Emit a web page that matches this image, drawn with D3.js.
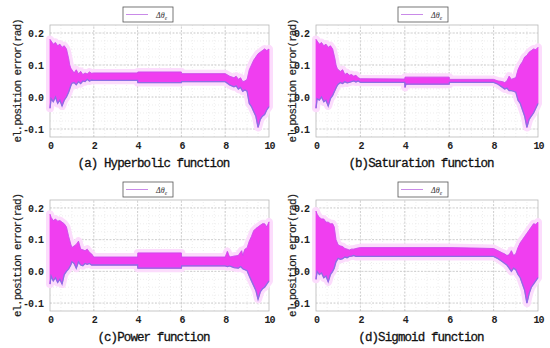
<!DOCTYPE html>
<html>
<head>
<meta charset="utf-8">
<script src="https://cdn.jsdelivr.net/npm/d3@7"></script>
<style>
  body { margin: 0; background: #fff; }
  svg { display: block; }
</style>
</head>
<body>
<svg id="chart" width="550" height="348"></svg>
<script>
// envelope of the error signal (max / min of the oscillation)
var timeA  = [0, 0.05, 0.15, 0.25, 0.35, 0.45, 0.55, 0.65, 0.75, 0.85, 0.9, 0.95, 1.0, 1.1, 1.2, 1.3, 1.4, 1.5, 1.6, 1.7, 1.8, 1.9, 2.0,
              4.0, 4.01, 6.0, 6.01, 8.0, 8.2, 8.4, 8.5, 8.6, 8.7, 8.8, 8.9, 9.0, 9.1, 9.2, 9.3, 9.4, 9.5, 9.6, 9.7, 9.8, 9.9, 10];
var upperA = [0.18, 0.175, 0.165, 0.17, 0.16, 0.165, 0.155, 0.16, 0.15, 0.12, 0.10, 0.09, 0.085, 0.075, 0.085, 0.072, 0.08, 0.07, 0.075, 0.072, 0.078, 0.074, 0.075,
              0.075, 0.078, 0.078, 0.073, 0.073, 0.065, 0.06, 0.065, 0.055, 0.06, 0.048, 0.05, 0.055, 0.085, 0.10, 0.115, 0.125, 0.135, 0.14, 0.145, 0.15, 0.145, 0.15];
var lowerA = [-0.035, -0.005, -0.015, 0.0, -0.02, -0.01, -0.028, -0.01, 0.0, 0.015, 0.025, 0.035, 0.043, 0.045, 0.038, 0.048, 0.042, 0.05, 0.048, 0.055, 0.05, 0.053, 0.052,
              0.052, 0.045, 0.045, 0.048, 0.048, 0.038, 0.032, 0.035, 0.025, 0.03, 0.018, 0.022, 0.018, -0.02, -0.03, -0.045, -0.06, -0.095, -0.07, -0.06, -0.055, -0.04, -0.03];

var timeB  = [0, 0.05, 0.15, 0.25, 0.35, 0.45, 0.55, 0.65, 0.75, 0.85, 0.9, 0.95, 1.0, 1.1, 1.2, 1.3, 1.4, 1.5, 1.6, 1.7, 1.8, 1.9, 2.0,
              4.0, 4.01, 4.05, 6.0, 6.01, 8.0, 8.2, 8.4, 8.5, 8.6, 8.7, 8.8, 8.9, 9.0, 9.1, 9.2, 9.3, 9.4, 9.5, 9.6, 9.7, 9.8, 9.9, 10];
var upperB = [0.18, 0.175, 0.165, 0.17, 0.16, 0.165, 0.155, 0.16, 0.15, 0.12, 0.10, 0.09, 0.085, 0.08, 0.085, 0.07, 0.075, 0.068, 0.07, 0.065, 0.068, 0.06, 0.057,
              0.056, 0.062, 0.062, 0.062, 0.055, 0.055, 0.05, 0.048, 0.045, 0.05, 0.065, 0.055, 0.058, 0.06, 0.085, 0.10, 0.11, 0.125, 0.13, 0.14, 0.145, 0.15, 0.148, 0.155];
var lowerB = [-0.035, -0.005, -0.01, 0.0, -0.015, -0.01, -0.028, -0.005, 0.005, 0.02, 0.028, 0.035, 0.04, 0.045, 0.042, 0.048, 0.044, 0.046, 0.048, 0.05, 0.047, 0.05, 0.046,
              0.046, 0.03, 0.04, 0.04, 0.046, 0.046, 0.04, 0.03, 0.025, 0.028, 0.02, 0.02, 0.018, 0.015, -0.01, -0.02, -0.04, -0.06, -0.095, -0.07, -0.06, -0.05, -0.035, -0.02];

var timeC  = [0, 0.05, 0.15, 0.25, 0.35, 0.45, 0.55, 0.65, 0.75, 0.85, 0.95, 1.0, 1.1, 1.2, 1.3, 1.4, 1.5, 1.6, 1.7, 1.8, 1.9, 2.0,
              4.0, 4.01, 6.0, 6.01, 8.0, 8.1, 8.2, 8.4, 8.6, 8.7, 8.75, 8.8, 8.9, 9.0, 9.1, 9.2, 9.3, 9.4, 9.5, 9.6, 9.7, 9.8, 9.9, 10];
var upperC = [0.18, 0.17, 0.16, 0.165, 0.158, 0.16, 0.155, 0.15, 0.14, 0.11, 0.085, 0.075, 0.08, 0.085, 0.095, 0.07, 0.068, 0.065, 0.07, 0.06, 0.055, 0.045,
              0.045, 0.058, 0.058, 0.045, 0.045, 0.063, 0.045, 0.048, 0.05, 0.06, 0.065, 0.05, 0.07, 0.074, 0.095, 0.11, 0.128, 0.135, 0.14, 0.145, 0.15, 0.15, 0.14, 0.156];
var lowerC = [-0.04, -0.015, -0.03, -0.02, -0.035, -0.025, -0.04, -0.01, 0.0, 0.008, 0.02, 0.03, 0.025, 0.01, 0.03, 0.02, 0.018, 0.025, 0.022, 0.025, 0.02, 0.02,
              0.02, 0.01, 0.01, 0.017, 0.017, 0.015, 0.017, 0.012, 0.01, 0.015, 0.012, 0.008, 0.005, 0.002, -0.015, -0.03, -0.045, -0.06, -0.088, -0.065, -0.055, -0.05, -0.04, -0.03];

var timeD  = [0, 0.05, 0.15, 0.25, 0.35, 0.45, 0.55, 0.65, 0.75, 0.82, 0.9, 1.0, 1.1, 1.2, 1.3, 1.4, 1.5, 1.6, 1.7, 1.8, 2.0,
              4.0, 6.0, 8.0, 8.2, 8.4, 8.5, 8.6, 8.7, 8.8, 8.9, 9.0, 9.1, 9.2, 9.3, 9.4, 9.5, 9.6, 9.7, 9.8, 9.9, 10];
var upperD = [0.19, 0.18, 0.17, 0.165, 0.165, 0.155, 0.155, 0.15, 0.15, 0.14, 0.10, 0.083, 0.08, 0.078, 0.072, 0.07, 0.067, 0.07, 0.07, 0.072, 0.075,
              0.075, 0.075, 0.072, 0.065, 0.058, 0.055, 0.05, 0.052, 0.065, 0.05, 0.055, 0.075, 0.09, 0.10, 0.11, 0.12, 0.13, 0.14, 0.15, 0.148, 0.155];
var lowerD = [-0.025, 0.0, -0.01, -0.005, -0.02, -0.015, -0.033, -0.01, 0.0, 0.01, 0.03, 0.041, 0.038, 0.04, 0.045, 0.043, 0.047, 0.048, 0.05, 0.047, 0.047,
              0.047, 0.047, 0.047, 0.04, 0.03, 0.025, 0.02, 0.01, 0.0, 0.01, 0.005, -0.01, -0.02, -0.04, -0.06, -0.1, -0.07, -0.05, -0.04, -0.03, -0.02];

var captions = ["(a) Hyperbolic function", "(b)Saturation function", "(c)Power function", "(d)Sigmoid function"];
var xTicks = [0, 2, 4, 6, 8, 10];
var yTicks = [-0.1, 0.0, 0.1, 0.2];
var yLabel = "el.position error(rad)";

var panels = [
    {t: timeA, up: upperA, lo: lowerA, col: 0, row: 0},
    {t: timeB, up: upperB, lo: lowerB, col: 1, row: 0},
    {t: timeC, up: upperC, lo: lowerC, col: 0, row: 1},
    {t: timeD, up: upperD, lo: lowerD, col: 1, row: 1}
];

var colLeft = [50, 316], colRight = [269, 538], colOrigin = [0, 275];
var rowTop = [25, 200], rowBottom = [137, 311];
var mono = "'Liberation Mono', 'DejaVu Sans Mono', monospace";

var svg = d3.select("#chart");

panels.forEach(function(p, i) {
    var x = d3.scaleLinear().domain([0, 10]).range([colLeft[p.col], colRight[p.col]]);
    var y = d3.scaleLinear().domain([-0.125, 0.225]).range([rowBottom[p.row], rowTop[p.row]]);
    var g = svg.append("g");
    var x0 = colOrigin[p.col];

    // minor grid (dotted)
    g.selectAll(".mx").data(d3.range(0.5, 10, 0.5)).enter().append("line")
        .attr("x1", d => x(d)).attr("x2", d => x(d))
        .attr("y1", y.range()[0]).attr("y2", y.range()[1])
        .attr("stroke", "#e6e6e6").attr("stroke-width", 0.7).attr("stroke-dasharray", "1,2");
    g.selectAll(".my").data(d3.range(-0.1, 0.225, 0.025)).enter().append("line")
        .attr("x1", x.range()[0]).attr("x2", x.range()[1])
        .attr("y1", d => y(d)).attr("y2", d => y(d))
        .attr("stroke", "#e6e6e6").attr("stroke-width", 0.7).attr("stroke-dasharray", "1,2");
    // major grid
    g.selectAll(".gx").data(xTicks.slice(1, -1)).enter().append("line")
        .attr("x1", d => x(d)).attr("x2", d => x(d))
        .attr("y1", y.range()[0]).attr("y2", y.range()[1])
        .attr("stroke", "#c4c4c4").attr("stroke-width", 0.8).attr("stroke-dasharray", "2,1.5");
    g.selectAll(".gy").data(yTicks).enter().append("line")
        .attr("x1", x.range()[0]).attr("x2", x.range()[1])
        .attr("y1", d => y(d)).attr("y2", d => y(d))
        .attr("stroke", "#c4c4c4").attr("stroke-width", 0.8).attr("stroke-dasharray", "2,1.5");

    g.append("rect")
        .attr("x", x.range()[0]).attr("y", y.range()[1])
        .attr("width", x.range()[1] - x.range()[0]).attr("height", y.range()[0] - y.range()[1])
        .attr("fill", "none").attr("stroke", "#b8b8b8").attr("stroke-width", 0.8);

    var idx = d3.range(p.t.length);
    var area = d3.area()
        .x(d => x(p.t[d]))
        .y0(d => y(p.lo[d]))
        .y1(d => y(p.up[d]));

    // light halo round the dense trace
    g.append("path").datum(idx).attr("d", area)
        .attr("fill", "#fcdcfc").attr("stroke", "#fcdcfc").attr("stroke-width", 8)
        .attr("stroke-linejoin", "round");
    g.append("path").datum(idx).attr("d", area)
        .attr("fill", "#f03ef0").attr("stroke", "#f03ef0").attr("stroke-width", 0.8);
    g.append("path").datum(idx)
        .attr("d", d3.line().x(d => x(p.t[d])).y(d => y(p.lo[d])))
        .attr("fill", "none").attr("stroke", "#8d6ee4").attr("stroke-width", 1.3);
    g.append("path").datum(idx)
        .attr("d", d3.line().x(d => x(p.t[d])).y(d => y(p.up[d])))
        .attr("fill", "none").attr("stroke", "#a45ce8").attr("stroke-width", 0.7).attr("opacity", 0.6);

    // axes
    var ax = g.append("g").attr("transform", "translate(0," + y.range()[0] + ")")
        .call(d3.axisBottom(x).tickValues(xTicks).tickSize(0).tickPadding(5).tickFormat(d3.format("d")));
    var ay = g.append("g").attr("transform", "translate(" + x.range()[0] + ",0)")
        .call(d3.axisLeft(y).tickValues(yTicks).tickSize(0).tickPadding(7).tickFormat(d => d.toFixed(1)));
    [ax, ay].forEach(function(a) {
        a.select(".domain").remove();
        a.selectAll("text")
            .style("font-family", mono).style("font-size", "10px").style("font-weight", "bold")
            .style("letter-spacing", "-1px").attr("fill", "#222");
    });

    // y label
    g.append("text")
        .attr("transform", "translate(" + (x0 + 21) + "," + ((rowTop[p.row] + rowBottom[p.row]) / 2) + ") rotate(-90)")
        .attr("text-anchor", "middle")
        .style("font-family", mono).style("font-size", "11px").style("letter-spacing", "-1px")
        .attr("fill", "#222").attr("stroke", "#222").attr("stroke-width", 0.2)
        .text(yLabel);

    // caption
    g.append("text")
        .attr("x", (x.range()[0] + x.range()[1]) / 2 - 6)
        .attr("y", rowBottom[p.row] + 30)
        .attr("text-anchor", "middle")
        .style("font-family", mono).style("font-size", "12.5px").style("letter-spacing", "-0.9px")
        .attr("fill", "#111").attr("stroke", "#111").attr("stroke-width", 0.3)
        .text(captions[i]);

    // legend
    var ly = rowTop[p.row] - 18;
    var lg = g.append("g").attr("transform", "translate(" + (x0 + 123) + "," + ly + ")");
    lg.append("rect").attr("width", 50).attr("height", 15)
        .attr("fill", "#fff").attr("stroke", "#555").attr("stroke-width", 0.8);
    lg.append("line").attr("x1", 3).attr("x2", 25).attr("y1", 7.5).attr("y2", 7.5)
        .attr("stroke", "#c98ae8").attr("stroke-width", 1);
    var lt = lg.append("text").attr("x", 33).attr("y", 10.5)
        .style("font-family", "'Liberation Serif', serif").style("font-style", "italic").style("font-size", "8px")
        .attr("fill", "#333");
    lt.append("tspan").text("\u0394\u03b8");
    lt.append("tspan").attr("dy", 2).style("font-size", "5.5px").text("e");
});
</script>
</body>
</html>
